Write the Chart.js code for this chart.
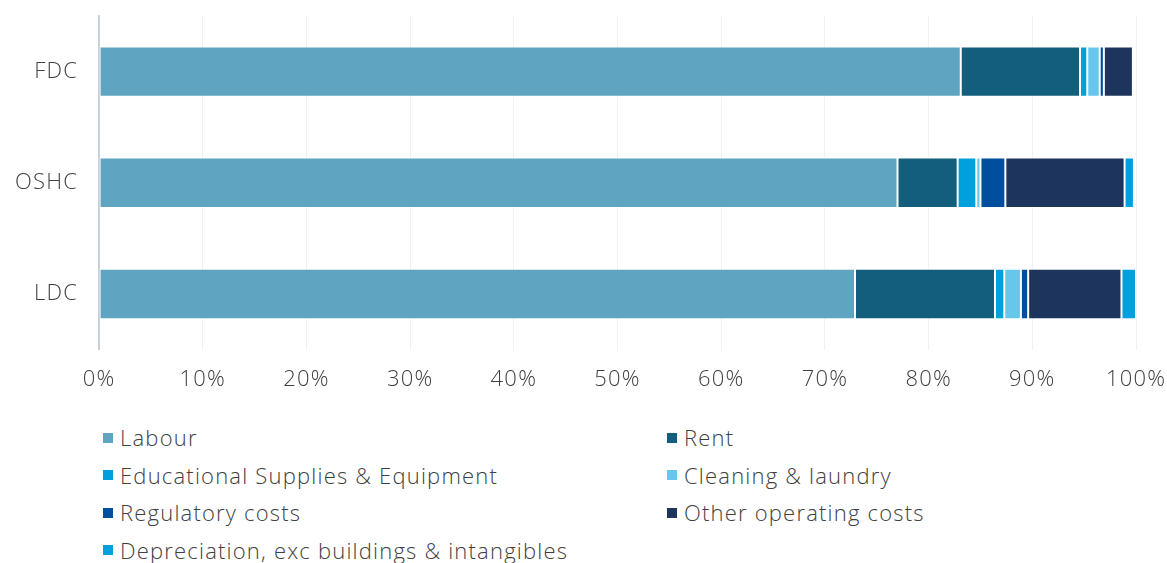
<!DOCTYPE html>
<html>
<head>
<meta charset="utf-8">
<script src="https://cdn.jsdelivr.net/npm/chart.js@4/dist/chart.umd.min.js"></script>
<style>
  html,body{margin:0;padding:0;background:#fff;}
  body{width:1167px;height:563px;overflow:hidden;font-family:"Open Sans",Lato,sans-serif;color:#404040;}
  #wrap{position:relative;width:1167px;height:400px;}
  #legend{display:grid;grid-template-columns:564px 500px;margin-left:103px;margin-top:25px;row-gap:12px;}
  .item{display:flex;align-items:center;font-size:22px;line-height:25.5px;font-weight:300;letter-spacing:1.2px;}
  .box{width:10px;height:10px;margin-right:7px;flex:none;}
</style>
</head>
<body>
<div id="wrap"><canvas id="c" width="1167" height="400"></canvas></div>
<div id="legend"></div>
<script>
const categories = ['FDC','OSHC','LDC'];
const labour       = [83.1, 77.0, 72.9];
const rent         = [11.5,  5.8, 13.5];
const educational  = [ 0.7,  1.8,  0.9];
const cleaning     = [ 1.2,  0.4,  1.6];
const regulatory   = [ 0.4,  2.4,  0.7];
const otherCosts   = [ 2.8, 11.5,  9.0];
const depreciation = [ 0.0,  0.9,  1.4];
const xTicks = [0,10,20,30,40,50,60,70,80,90,100];

const series = [
  ['Labour', labour, '#5fa4c0'],
  ['Rent', rent, '#125e7c'],
  ['Educational Supplies & Equipment', educational, '#00a0dc'],
  ['Cleaning & laundry', cleaning, '#66c6ec'],
  ['Regulatory costs', regulatory, '#004f9e'],
  ['Other operating costs', otherCosts, '#1d355c'],
  ['Depreciation, exc buildings & intangibles', depreciation, '#00a0dc']
];

const font = {family:'"Open Sans", Lato, sans-serif', size:22, weight:300};

// wider tracking on the axis text
const spacing = {
  id:'spacing',
  beforeLayout(c){ c.ctx.letterSpacing = '1.2px'; },
  beforeDraw(c){ c.ctx.letterSpacing = '1.2px'; }
};

// let layout.padding alone decide the plot edges
const noEdgePadding = scale => {
  scale.paddingTop = 0; scale.paddingBottom = 0;
  scale.paddingLeft = 0; scale.paddingRight = 0;
};

const chart = new Chart(document.getElementById('c'), {
  type:'bar',
  data:{
    labels:categories,
    datasets:series.map(([label,data,color])=>({
      label, data, backgroundColor:color,
      borderColor:'rgba(255,255,255,0.85)', borderWidth:1, borderSkipped:false,
      barPercentage:0.5, categoryPercentage:0.906
    }))
  },
  plugins:[spacing],
  options:{
    indexAxis:'y',
    responsive:false,
    animation:false,
    layout:{padding:{left:-6,right:31,top:16,bottom:-10}},
    plugins:{legend:{display:false}, tooltip:{enabled:false}},
    scales:{
      x:{
        stacked:true, min:0, max:100,
        afterBuildTicks:axis=>{ axis.ticks = xTicks.map(v=>({value:v})); },
        afterFit:noEdgePadding,
        ticks:{callback:v=>v+'%', color:'#404040', font, padding:17, maxRotation:0},
        grid:{color:'#f1f1f1', drawTicks:false},
        border:{display:false}
      },
      y:{
        stacked:true,
        afterFit:noEdgePadding,
        ticks:{color:'#404040', font, padding:21},
        grid:{display:false, drawTicks:false},
        border:{color:'#c8d0dc', width:2}
      }
    }
  }
});

// two-column legend under the plot
const legend = document.getElementById('legend');
chart.data.datasets.forEach(ds=>{
  const el = document.createElement('div');
  el.className = 'item';
  el.innerHTML = '<span class="box" style="background:'+ds.backgroundColor+'"></span><span></span>';
  el.lastChild.textContent = ds.label;
  legend.appendChild(el);
});
</script>
</body>
</html>
